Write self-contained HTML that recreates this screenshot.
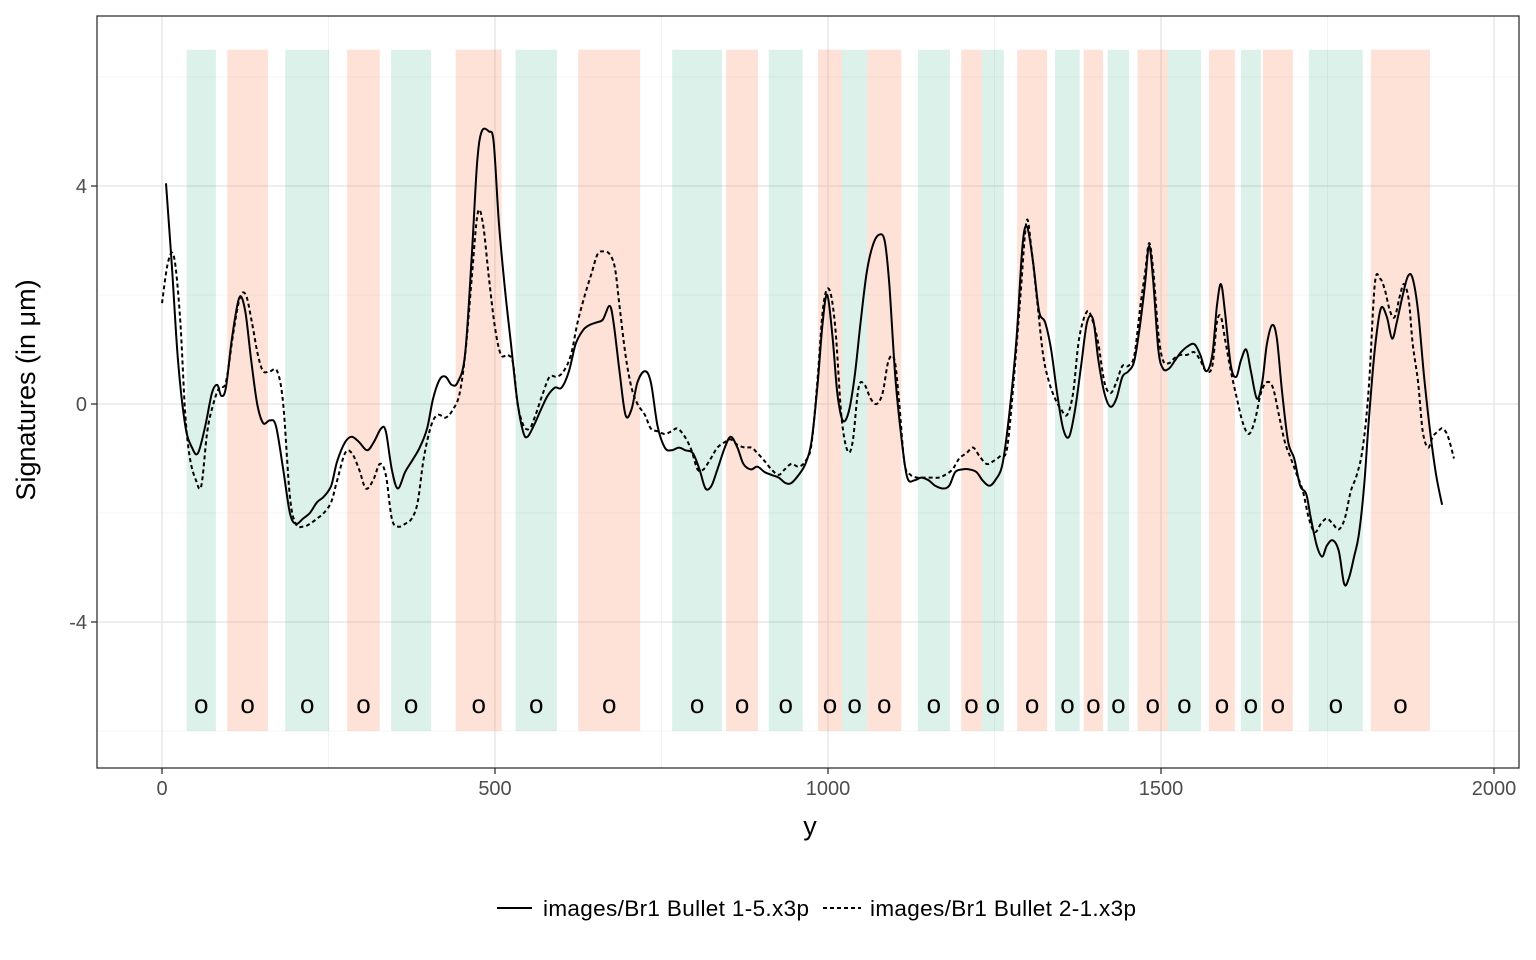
<!DOCTYPE html>
<html><head><meta charset="utf-8"><style>
body{margin:0;background:#fff;}
svg{display:block;font-family:"Liberation Sans",Arial,sans-serif;}
</style></head><body>
<svg id="chart" width="1536" height="960" viewBox="0 0 1536 960"></svg>
<script>
const bandStart=[37,98,185,278,344,441,531,625,766,847,911,985,1021,1059,1135,1200,1231,1284,1341,1384,1420,1465,1510,1572,1620,1653,1722,1815];
const bandEnd=[81,159,251,327,404,510,593,718,841,895,962,1021,1059,1110,1183,1231,1264,1329,1378,1413,1452,1510,1560,1611,1650,1698,1803,1904];
const bandType=["g","r","g","r","g","r","g","r","g","r","g","r","g","r","g","r","g","r","g","r","g","r","g","r","g","r","g","r"];
const xTicks=[0,500,1000,1500,2000];
const yTicks=[-4,0,4];
const s1x=[6,15,24,35,45,54,65,75,83,89,96,105,116,125,134,143,152,162,171,182,192,201,212,222,233,243,254,263,275,285,296,308,318,329,336,345,354,365,375,387,398,407,417,426,435,444,455,465,473,480,491,498,506,515,524,533,542,549,560,569,579,590,600,611,621,632,642,653,662,672,678,687,696,705,714,725,734,744,755,765,776,786,797,807,816,825,834,845,854,864,873,884,894,905,915,926,936,945,956,966,975,984,992,999,1007,1014,1022,1031,1040,1049,1058,1067,1076,1085,1092,1101,1110,1119,1130,1140,1151,1161,1172,1182,1191,1202,1212,1223,1232,1242,1251,1262,1272,1283,1292,1299,1308,1317,1326,1335,1344,1353,1362,1371,1380,1389,1398,1406,1415,1424,1433,1442,1451,1460,1469,1476,1482,1488,1496,1503,1512,1521,1530,1539,1550,1559,1568,1577,1584,1590,1596,1605,1613,1620,1628,1635,1644,1652,1659,1667,1674,1682,1691,1700,1709,1718,1725,1734,1742,1749,1758,1767,1775,1782,1790,1797,1805,1812,1821,1830,1839,1847,1854,1863,1871,1878,1886,1895,1904,1913,1922];
const s1y=[4.05,2.5,0.8,-0.4,-0.8,-0.9,-0.4,0.2,0.35,0.15,0.3,1.2,1.95,1.7,0.8,0.0,-0.35,-0.3,-0.4,-1.2,-2.0,-2.2,-2.1,-2.0,-1.8,-1.7,-1.5,-1.05,-0.7,-0.6,-0.7,-0.85,-0.7,-0.45,-0.5,-1.2,-1.55,-1.25,-1.05,-0.8,-0.45,0.1,0.45,0.5,0.35,0.4,0.9,2.7,4.4,5.0,5.0,4.8,3.3,2.1,1.1,0.1,-0.5,-0.6,-0.35,-0.1,0.15,0.3,0.3,0.6,1.1,1.35,1.45,1.5,1.55,1.8,1.5,0.6,-0.2,-0.1,0.4,0.6,0.4,-0.4,-0.8,-0.85,-0.8,-0.85,-0.9,-1.2,-1.55,-1.5,-1.2,-0.8,-0.6,-0.8,-1.1,-1.2,-1.15,-1.25,-1.3,-1.35,-1.45,-1.45,-1.3,-1.1,-0.7,0.3,1.5,2.0,1.2,0.2,-0.3,-0.15,0.5,1.5,2.4,2.9,3.1,3.0,2.2,0.5,-0.6,-1.35,-1.4,-1.35,-1.4,-1.5,-1.55,-1.5,-1.25,-1.2,-1.2,-1.25,-1.4,-1.5,-1.4,-1.1,-0.2,1.2,2.9,3.25,2.6,1.7,1.5,1.0,0.2,-0.45,-0.6,-0.1,0.7,1.5,1.55,0.8,0.2,-0.05,0.1,0.5,0.6,0.8,1.5,2.2,2.9,2.3,1.0,0.65,0.65,0.8,0.95,1.05,1.1,0.9,0.6,0.9,1.8,2.2,1.7,0.7,0.5,0.8,1.0,0.6,0.1,0.4,1.1,1.45,1.2,0.2,-0.7,-1.0,-1.5,-1.65,-2.1,-2.6,-2.8,-2.6,-2.5,-2.7,-3.3,-3.2,-2.8,-2.4,-1.5,-0.3,1.0,1.75,1.6,1.2,1.5,2.0,2.35,2.3,1.7,0.5,-0.5,-1.3,-1.85];
const s2x=[0,9,18,27,35,42,51,59,68,77,86,96,107,117,126,135,144,152,162,173,182,192,201,212,222,233,243,254,263,275,285,296,306,317,327,336,345,354,365,375,384,393,404,414,426,437,447,456,465,474,482,491,500,509,519,527,534,543,552,561,572,582,593,603,614,624,635,645,654,663,672,680,687,696,705,714,725,734,744,755,765,774,785,795,804,813,824,834,845,854,864,875,885,894,905,915,926,935,945,956,966,975,984,993,1002,1011,1020,1029,1037,1046,1055,1064,1073,1082,1091,1100,1107,1115,1124,1134,1145,1155,1166,1176,1187,1197,1208,1218,1227,1238,1248,1259,1269,1280,1289,1298,1305,1314,1323,1332,1341,1350,1359,1368,1377,1389,1398,1406,1415,1424,1433,1442,1451,1460,1469,1476,1482,1488,1496,1503,1512,1521,1530,1539,1550,1559,1568,1577,1584,1590,1596,1605,1614,1623,1632,1641,1650,1659,1668,1677,1686,1695,1704,1713,1722,1731,1740,1749,1758,1767,1776,1785,1794,1803,1812,1821,1829,1836,1844,1851,1859,1865,1872,1878,1886,1893,1901,1908,1916,1923,1931,1940];
const s2y=[1.85,2.6,2.7,1.6,-0.2,-1.0,-1.4,-1.5,-0.5,0.0,0.3,0.4,1.3,1.95,2.0,1.5,0.9,0.6,0.6,0.6,0.0,-1.7,-2.2,-2.25,-2.2,-2.1,-2.0,-1.8,-1.4,-0.9,-0.9,-1.2,-1.55,-1.4,-1.1,-1.3,-2.1,-2.25,-2.2,-2.1,-1.8,-1.0,-0.4,-0.2,-0.25,-0.1,0.2,1.0,2.3,3.5,3.3,2.3,1.4,0.9,0.9,0.75,0.0,-0.4,-0.45,-0.2,0.2,0.5,0.5,0.6,0.9,1.5,2.0,2.4,2.75,2.8,2.75,2.5,1.8,0.9,0.3,0.0,-0.2,-0.45,-0.5,-0.55,-0.5,-0.45,-0.6,-0.85,-1.2,-1.2,-1.0,-0.8,-0.7,-0.65,-0.75,-0.8,-0.8,-0.9,-1.05,-1.2,-1.3,-1.2,-1.1,-1.15,-1.05,-0.75,0.4,1.8,2.1,1.4,-0.2,-0.85,-0.7,0.3,0.35,0.1,0.0,0.2,0.8,0.8,0.0,-1.1,-1.3,-1.35,-1.35,-1.35,-1.35,-1.3,-1.2,-1.0,-0.9,-0.8,-0.95,-1.1,-1.05,-0.95,-0.8,0.6,2.0,3.35,2.9,1.9,0.9,0.4,0.1,-0.1,-0.2,0.2,1.2,1.7,1.5,1.1,0.4,0.2,0.4,0.7,0.7,0.9,1.8,2.4,2.95,2.5,1.3,0.8,0.75,0.85,0.9,0.9,0.95,0.8,0.6,0.7,1.5,1.6,1.2,0.6,0.1,-0.35,-0.55,-0.3,0.2,0.4,0.3,-0.2,-0.7,-1.0,-1.3,-1.6,-2.1,-2.35,-2.2,-2.1,-2.2,-2.3,-2.1,-1.6,-1.3,-0.8,0.3,2.2,2.3,2.1,1.7,1.6,2.0,2.2,1.9,1.1,0.4,-0.5,-0.8,-0.6,-0.5,-0.45,-0.6,-1.0];

const NS='http://www.w3.org/2000/svg';
const svg=document.getElementById('chart');
const L=97,R=1519,T=16,B=768;
const X=v=>162+v*0.666;
const Y=v=>404-v*54.5;
function mk(tag,attrs,parent){const e=document.createElementNS(NS,tag);for(const k in attrs)e.setAttribute(k,attrs[k]);(parent||svg).appendChild(e);return e;}

const grid=mk('g',{});


[250,750,1250,1750].forEach(v=>mk('line',{x1:X(v),x2:X(v),y1:T,y2:B,stroke:'#ebebeb','stroke-width':0.6},grid));
[-6,-2,2,6].forEach(v=>mk('line',{x1:L,x2:R,y1:Y(v),y2:Y(v),stroke:'#ebebeb','stroke-width':0.6},grid));
xTicks.forEach(v=>mk('line',{x1:X(v),x2:X(v),y1:T,y2:B,stroke:'#e3e3e3','stroke-width':1.3},grid));
yTicks.forEach(v=>mk('line',{x1:L,x2:R,y1:Y(v),y2:Y(v),stroke:'#e3e3e3','stroke-width':1.3},grid));

const bands=mk('g',{});


for(let i=0;i<bandStart.length;i++){
  const r=mk('rect',{x:X(bandStart[i]),y:Y(6.5),width:X(bandEnd[i])-X(bandStart[i]),height:Y(-6)-Y(6.5),fill:bandType[i]==='g'?'rgba(27,158,119,0.15)':'rgba(252,141,98,0.25)'},bands);
  
  
  const t=mk('text',{x:(X(bandStart[i])+X(bandEnd[i]))/2,y:Y(-5.5)+9,'text-anchor':'middle','font-size':26,fill:'#000'},bands);
  t.textContent='o';
  
  
}

function smoothPath(xs,ys){
  const p=xs.map((x,i)=>[X(x),Y(ys[i])]);
  let d='M'+p[0][0]+','+p[0][1];
  for(let i=0;i<p.length-1;i++){
    const p0=p[Math.max(0,i-1)],p1=p[i],p2=p[i+1],p3=p[Math.min(p.length-1,i+2)];
    const c1=[p1[0]+(p2[0]-p0[0])/6,p1[1]+(p2[1]-p0[1])/6];
    const c2=[p2[0]-(p3[0]-p1[0])/6,p2[1]-(p3[1]-p1[1])/6];
    d+=' C'+c1[0].toFixed(1)+','+c1[1].toFixed(1)+' '+c2[0].toFixed(1)+','+c2[1].toFixed(1)+' '+p2[0].toFixed(1)+','+p2[1].toFixed(1);
  }
  return d;
}
function line(xs,ys,dash,name){
  const p=mk('path',{d:smoothPath(xs,ys),fill:'none',stroke:'#000','stroke-width':2,'stroke-linejoin':'round','stroke-dasharray':dash});
  
  
}
line(s2x,s2y,'4,3','series-bullet-2-1');
line(s1x,s1y,'none','series-bullet-1-5');

const frame=mk('rect',{x:L,y:T,width:R-L,height:B-T,fill:'none',stroke:'#333','stroke-width':1.3});



xTicks.forEach(v=>{
  mk('line',{x1:X(v),x2:X(v),y1:B,y2:B+6,stroke:'#333','stroke-width':1.3});
  const t=mk('text',{x:X(v),y:B+27,'text-anchor':'middle','font-size':20,fill:'#4d4d4d'});
  t.textContent=v;
  
  
});
yTicks.forEach(v=>{
  mk('line',{x1:L-6,x2:L,y1:Y(v),y2:Y(v),stroke:'#333','stroke-width':1.3});
  const t=mk('text',{x:L-10,y:Y(v)+7,'text-anchor':'end','font-size':20,fill:'#4d4d4d'});
  t.textContent=v;
  
  
});
</script>
<svg style="position:absolute;left:0;top:0" width="1536" height="960">
<text x="810" y="835" text-anchor="middle" font-size="27">y</text>
<text transform="translate(35,390) rotate(-90)" text-anchor="middle" font-size="27">Signatures (in μm)</text>
<g>
<line x1="497" x2="532" y1="908" y2="908" stroke="#000" stroke-width="2"/>
<text x="543" y="916" font-size="22.5" textLength="266">images/Br1 Bullet 1-5.x3p</text>
<line x1="823" x2="861" y1="908" y2="908" stroke="#000" stroke-width="2" stroke-dasharray="4,3"/>
<text x="870" y="916" font-size="22.5" textLength="266">images/Br1 Bullet 2-1.x3p</text>
</g>
</svg>
</body></html>
